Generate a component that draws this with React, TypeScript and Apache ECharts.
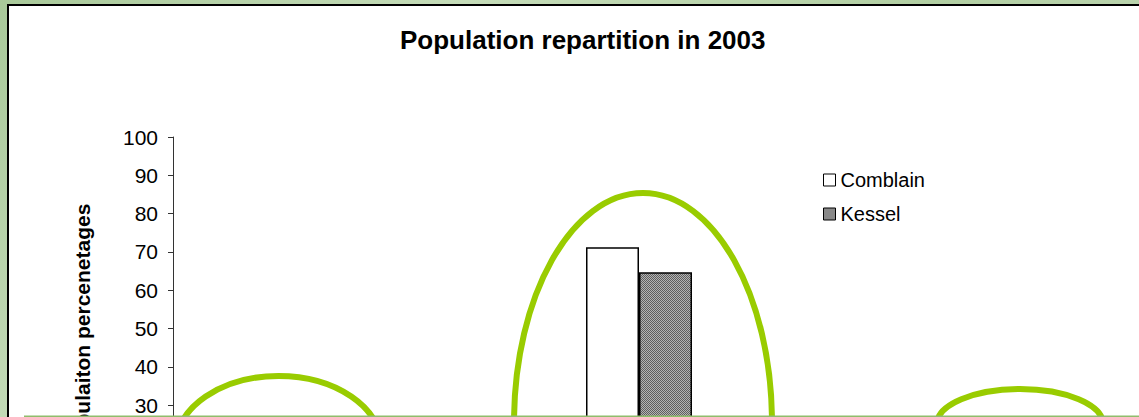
import React, { useEffect, useRef } from "react";
import * as echarts from "echarts";

const categories = ["0-19 years", "20-59 years", "60+ years"];
const comblainValues = [17.0, 71.2, 11.8];
const kesselValues = [21.0, 64.7, 14.3];
const seriesNames = ["Comblain", "Kessel"];
const yMin = 0;
const yMax = 100;
const yInterval = 10;
const firstVisibleTick = 30;
const titleText = "Population repartition in 2003";
const yAxisName = "Populaiton percenetages";

const FONT = "'Liberation Sans', Arial, sans-serif";

function makePattern(): HTMLCanvasElement {
  const c = document.createElement("canvas");
  c.width = 4;
  c.height = 4;
  const ctx = c.getContext("2d")!;
  for (let y = 0; y < 4; y++) {
    for (let x = 0; x < 4; x++) {
      ctx.fillStyle = (x + y) % 2 ? "#b4b4b4" : "#5e5e5e";
      ctx.fillRect(x, y, 1, 1);
    }
  }
  return c;
}

export default function App() {
  const ref = useRef<HTMLDivElement>(null);

  useEffect(() => {
    if (!ref.current) return;
    const chart = echarts.init(ref.current, undefined, { renderer: "svg" });
    const pattern = makePattern();
    const green = "#99cc00";
    chart.setOption({
      animation: false,
      backgroundColor: "transparent",
      title: {
        text: titleText,
        left: 400,
        top: 27,
        padding: 0,
        textStyle: {
          fontFamily: FONT,
          fontSize: 26,
          fontWeight: "bold",
          color: "#000",
        },
      },
      legend: {
        orient: "vertical",
        left: 818,
        top: 165,
        itemWidth: 12,
        itemHeight: 12,
        itemGap: 14,
        icon: "rect",
        data: seriesNames,
        textStyle: { fontFamily: FONT, fontSize: 20, color: "#000" },
        itemStyle: { borderColor: "#000", borderWidth: 1 },
      },
      grid: { left: 173, right: 34, top: 137, height: 383, containLabel: false },
      xAxis: {
        type: "category",
        data: categories,
        axisLabel: { show: false },
        axisTick: { show: false },
        axisLine: { lineStyle: { color: "#000" } },
      },
      yAxis: {
        type: "value",
        min: yMin,
        max: yMax,
        interval: yInterval,
        name: yAxisName,
        nameLocation: "middle",
        nameRotate: 90,
        nameGap: 80,
        nameTextStyle: {
          fontFamily: FONT,
          fontSize: 21,
          fontWeight: "bold",
          color: "#000",
        },
        axisLine: { show: true, lineStyle: { color: "#333", width: 1 } },
        axisTick: { show: true, inside: false, length: 5, lineStyle: { color: "#333" } },
        axisLabel: {
          margin: 15,
          fontFamily: FONT,
          fontSize: 21,
          color: "#000",
          formatter: (v: number) => (v >= firstVisibleTick ? String(v) : ""),
        },
        splitLine: { show: false },
      },
      series: [
        {
          name: seriesNames[0],
          type: "bar",
          data: comblainValues,
          barWidth: 53,
          barGap: "0%",
          itemStyle: { color: "#ffffff", borderColor: "#000", borderWidth: 1.5 },
        },
        {
          name: seriesNames[1],
          type: "bar",
          data: kesselValues,
          barWidth: 53,
          barGap: "0%",
          itemStyle: {
            color: { image: pattern, repeat: "repeat", imageWidth: 4, imageHeight: 4 },
            borderColor: "#000",
            borderWidth: 1.5,
          },
        },
      ],
      graphic: [
        {
          type: "ellipse",
          z: 100,
          shape: { cx: 643, cy: 423, rx: 129, ry: 230 },
          style: { fill: "none", stroke: green, lineWidth: 6 },
        },
        {
          type: "ellipse",
          z: 100,
          shape: { cx: 278.5, cy: 446, rx: 103, ry: 70 },
          style: { fill: "none", stroke: green, lineWidth: 6 },
        },
        {
          type: "ellipse",
          z: 100,
          shape: { cx: 1020, cy: 424, rx: 83, ry: 35 },
          style: { fill: "none", stroke: green, lineWidth: 6 },
        },
        {
          type: "line",
          z: 101,
          shape: { x1: 24, y1: 416.5, x2: 1139, y2: 416.5 },
          style: { stroke: "#8fbd6c", lineWidth: 2 },
        },
      ],
    });
    return () => chart.dispose();
  }, []);

  return (
    <div
      style={{
        position: "fixed",
        left: 0,
        top: 0,
        width: 1139,
        height: 417,
        overflow: "hidden",
        background:
          "linear-gradient(135deg, #a9c99a 0%, #c5dcb9 30%, #b2cfa3 60%, #c9dcc0 100%)",
      }}
    >
      <div
        style={{
          position: "absolute",
          left: 7,
          top: 4,
          width: 1200,
          height: 600,
          background: "#ffffff",
          borderLeft: "2px solid #000",
          borderTop: "2px solid #000",
        }}
      />
      <div
        ref={ref}
        style={{ position: "absolute", left: 0, top: 0, width: 1139, height: 560 }}
      />
    </div>
  );
}
